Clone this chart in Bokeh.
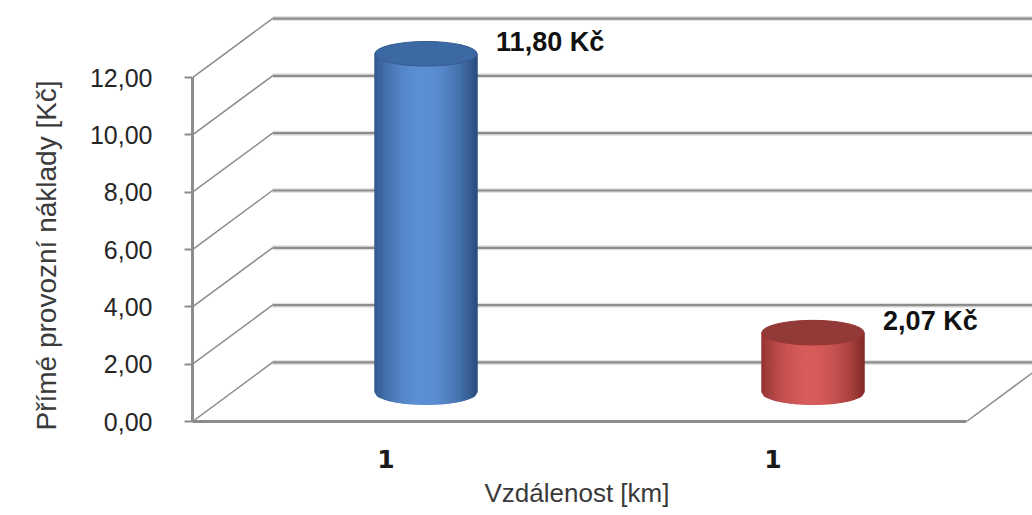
import numpy as np
from bokeh.plotting import figure
from bokeh.models import Range1d, FixedTicker, Title
from bokeh.core.properties import value
from bokeh.embed import file_html
from bokeh.resources import INLINE

# ---- data ----
categories = ["1", "1"]
values = [11.80, 2.07]
unit = "Kč"
y_ticks = [0, 2, 4, 6, 8, 10, 12]
y_tick_labels = ["0,00", "2,00", "4,00", "6,00", "8,00", "10,00", "12,00"]
x_title = "Vzdálenost  [km]"
y_title = "Přímé provozní  náklady [Kč]"

# ---- styling ----
edge_colors = [(40, 74, 122), (130, 40, 39)]
center_colors = [(92, 143, 212), (214, 92, 90)]
top_colors = ["#3c68a4", "#923a38"]
DX = 0.2067      # depth offset in x units (3D projection)
DY = 2.06        # depth offset in value units
HALF_W = 0.132   # cylinder half width (x units)
RY = 0.43        # ellipse half height (value units)
GRID = "#8c8c8c"

n_cat = len(categories)
x_centers = [i + 0.5 for i in range(n_cat)]

p = figure(width=1032, height=515,
           x_range=Range1d(0, 2.1705), y_range=Range1d(0, 14.515),
           output_backend="svg", toolbar_location=None,
           min_border_left=192, min_border_right=0,
           min_border_top=5, min_border_bottom=94)
p.outline_line_color = None
p.xgrid.visible = False
p.ygrid.visible = False
p.background_fill_color = "white"
p.border_fill_color = "white"

# ---- back wall grid lines + side diagonals ----
x_far = 2.6
for v in y_ticks:
    p.line([DX, x_far], [v + DY, v + DY], line_color="#e2e2e2", line_width=5)
    p.line([DX, x_far], [v + DY, v + DY], line_color=GRID, line_width=2.2)
    p.line([0, DX], [v, v + DY], line_color=GRID, line_width=1.5)
# floor right edge
p.line([n_cat, n_cat + DX], [0, DY], line_color=GRID, line_width=1.5)

# ---- cylinders ----
def mix(a, b, f):
    return "#%02x%02x%02x" % tuple(int(round(a[k] + (b[k] - a[k]) * f)) for k in range(3))

N = 40
for i, v in enumerate(values):
    cx = x_centers[i] + DX / 2
    base = DY / 2
    top = v + DY / 2
    xs, ys, cols = [], [], []
    for k in range(N):
        t0 = -1 + 2 * k / N
        t1 = -1 + 2 * (k + 1) / N
        tm = (t0 + t1) / 2
        x0 = cx + t0 * HALF_W
        x1 = cx + t1 * HALF_W
        yb0 = base - RY * np.sqrt(max(0.0, 1 - t0 ** 2))
        yb1 = base - RY * np.sqrt(max(0.0, 1 - t1 ** 2))
        xs.append([x0, x1, x1, x0])
        ys.append([yb0, yb1, top, top])
        f = max(0.0, np.cos(np.pi / 2 * (tm + 0.05) / 1.05)) ** 0.8
        cols.append(mix(edge_colors[i], center_colors[i], f))
    p.patches(xs, ys, fill_color=cols, line_color=cols, line_width=1.3)
    p.ellipse(x=[cx], y=[top], width=[2 * HALF_W], height=[2 * RY],
              fill_color=top_colors[i], line_color=mix(edge_colors[i], center_colors[i], 0.25),
              line_width=1)

# ---- data labels ----
labels = [f"{v:.2f}".replace(".", ",") + " " + unit for v in values]
lx = [x_centers[i] + DX / 2 + HALF_W for i in range(n_cat)]
ly = [v + DY / 2 for v in values]
p.text(x=lx, y=ly, text=labels, x_offset=19, y_offset=-12,
       text_font=value("Liberation Sans"), text_font_style="bold",
       text_font_size="27px", text_color="#111111",
       text_align="left", text_baseline="middle")

# ---- axes ----
ya = p.yaxis[0]
ya.ticker = FixedTicker(ticks=y_ticks)
ya.major_label_overrides = {t: l for t, l in zip(y_ticks, y_tick_labels)}
ya.bounds = (0, 12)
ya.axis_line_color = GRID
ya.axis_line_width = 3
ya.major_tick_line_color = GRID
ya.major_tick_line_width = 2
ya.major_tick_out = 8
ya.major_tick_in = 0
ya.minor_tick_line_color = None
ya.major_label_standoff = 32
ya.major_label_text_font = "Liberation Sans"
ya.major_label_text_font_size = "25px"
ya.major_label_text_color = "#262626"

xa = p.xaxis[0]
xa.ticker = FixedTicker(ticks=x_centers)
xa.major_label_overrides = {t: c for t, c in zip(x_centers, categories)}
xa.bounds = (0, n_cat)
xa.axis_line_color = GRID
xa.axis_line_width = 3
xa.major_tick_line_color = None
xa.minor_tick_line_color = None
xa.major_tick_out = 0
xa.major_tick_in = 0
xa.major_label_standoff = 28
xa.major_label_text_font = "DejaVu Sans"
xa.major_label_text_font_style = "bold"
xa.major_label_text_font_size = "25px"
xa.major_label_text_color = "#1a1a1a"

# axis titles (as titles so they can be placed along the bounded axes)
p.add_layout(Title(text=x_title, align="left", offset=292, standoff=10,
                   text_font="Liberation Sans", text_font_size="26px",
                   text_font_style="normal", text_color="#3a3a3a"), "below")
p.add_layout(Title(text=y_title, align="left", offset=-9, standoff=50,
                   text_font="Liberation Sans", text_font_size="28px",
                   text_font_style="normal", text_color="#3a3a3a"), "left")

open("out.html", "w").write(file_html(p, INLINE))
